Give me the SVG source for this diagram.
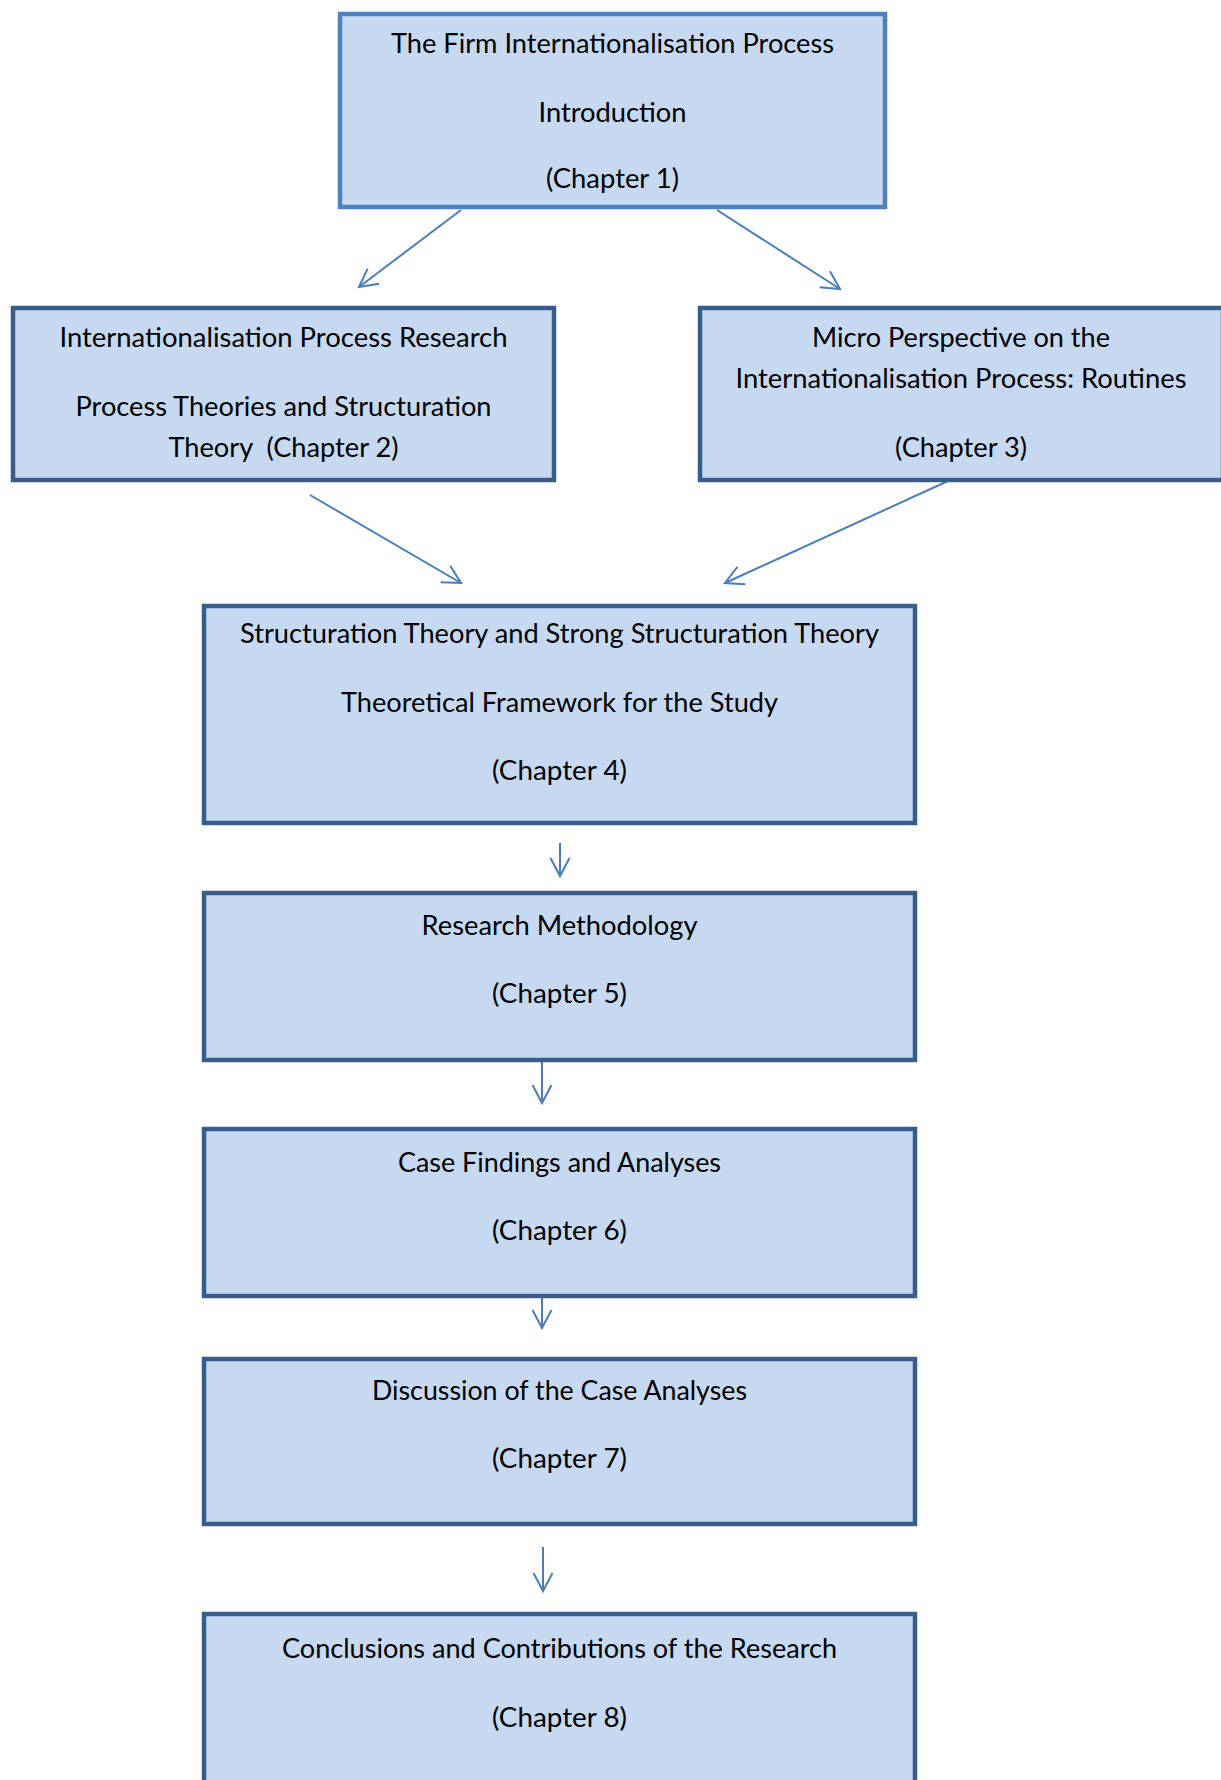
<svg xmlns="http://www.w3.org/2000/svg" width="1221" height="1780" viewBox="0 0 1221 1780">
<style>
.box{fill:#C6D9F1;stroke:#385D8A;stroke-width:4.5}
.box1{stroke:#4F81BD}
.t{font-family:"Lato","Liberation Sans",sans-serif;font-size:26px;fill:#000;text-anchor:middle}
.c{fill:none;stroke:#4A7EBB;stroke-width:2;marker-end:url(#ah)}
</style>
<defs>
<marker id="ah" markerUnits="userSpaceOnUse" markerWidth="30" markerHeight="30" viewBox="-20 -15 25 30" refX="0" refY="0" orient="auto">
<path d="M-18,-9.5 L0,0 L-18,9.5" fill="none" stroke="#4A7EBB" stroke-width="2"/>
</marker>
</defs>
<rect width="1221" height="1780" fill="#fff"/>
<g id="connectors">
<line class="c" x1="461" y1="210" x2="359" y2="287"/>
<line class="c" x1="717" y1="210" x2="840" y2="289"/>
<line class="c" x1="310" y1="495" x2="461" y2="583"/>
<line class="c" x1="948" y1="481" x2="725" y2="583"/>
<line class="c" x1="560" y1="843" x2="560" y2="876"/>
<line class="c" x1="542" y1="1062" x2="542" y2="1103"/>
<line class="c" x1="542" y1="1298" x2="542" y2="1328"/>
<line class="c" x1="543" y1="1547" x2="543" y2="1591"/>
</g>
<g id="ch1">
<rect class="box box1" x="340" y="14" width="545" height="193"/>
<text class="t" x="612.5" y="53" textLength="443" lengthAdjust="spacingAndGlyphs">The Firm Internationalisation Process</text>
<text class="t" x="612.5" y="122" textLength="148" lengthAdjust="spacingAndGlyphs">Introduction</text>
<text class="t" x="612.5" y="188" textLength="133" lengthAdjust="spacingAndGlyphs">(Chapter 1)</text>
</g>
<g id="ch2">
<rect class="box" x="13" y="308" width="541" height="172"/>
<text class="t" x="283.5" y="347" textLength="448" lengthAdjust="spacingAndGlyphs">Internationalisation Process Research</text>
<text class="t" x="283.5" y="416" textLength="416" lengthAdjust="spacingAndGlyphs">Process Theories and Structuration</text>
<text class="t" x="283.5" y="457" textLength="230" lengthAdjust="spacingAndGlyphs" xml:space="preserve">Theory  (Chapter 2)</text>
</g>
<g id="ch3">
<rect class="box" x="700" y="308" width="523" height="172"/>
<text class="t" x="961" y="347" textLength="298" lengthAdjust="spacingAndGlyphs">Micro Perspective on the</text>
<text class="t" x="961" y="388" textLength="451" lengthAdjust="spacingAndGlyphs">Internationalisation Process: Routines</text>
<text class="t" x="961" y="457" textLength="132" lengthAdjust="spacingAndGlyphs">(Chapter 3)</text>
</g>
<g id="ch4">
<rect class="box" x="204" y="606" width="711" height="217"/>
<text class="t" x="559.5" y="643" textLength="639" lengthAdjust="spacingAndGlyphs">Structuration Theory and Strong Structuration Theory</text>
<text class="t" x="559.5" y="712" textLength="437" lengthAdjust="spacingAndGlyphs">Theoretical Framework for the Study</text>
<text class="t" x="559.5" y="780" textLength="135" lengthAdjust="spacingAndGlyphs">(Chapter 4)</text>
</g>
<g id="ch5">
<rect class="box" x="204" y="893" width="711" height="167"/>
<text class="t" x="559.5" y="935" textLength="276" lengthAdjust="spacingAndGlyphs">Research Methodology</text>
<text class="t" x="559.5" y="1003" textLength="135" lengthAdjust="spacingAndGlyphs">(Chapter 5)</text>
</g>
<g id="ch6">
<rect class="box" x="204" y="1129" width="711" height="167"/>
<text class="t" x="559.5" y="1172" textLength="323" lengthAdjust="spacingAndGlyphs">Case Findings and Analyses</text>
<text class="t" x="559.5" y="1240" textLength="135" lengthAdjust="spacingAndGlyphs">(Chapter 6)</text>
</g>
<g id="ch7">
<rect class="box" x="204" y="1359" width="711" height="165"/>
<text class="t" x="559.5" y="1400" textLength="375" lengthAdjust="spacingAndGlyphs">Discussion of the Case Analyses</text>
<text class="t" x="559.5" y="1468" textLength="135" lengthAdjust="spacingAndGlyphs">(Chapter 7)</text>
</g>
<g id="ch8">
<rect class="box" x="204" y="1614" width="711" height="200"/>
<text class="t" x="559.5" y="1658" textLength="555" lengthAdjust="spacingAndGlyphs">Conclusions and Contributions of the Research</text>
<text class="t" x="559.5" y="1727" textLength="135" lengthAdjust="spacingAndGlyphs">(Chapter 8)</text>
</g>
</svg>
